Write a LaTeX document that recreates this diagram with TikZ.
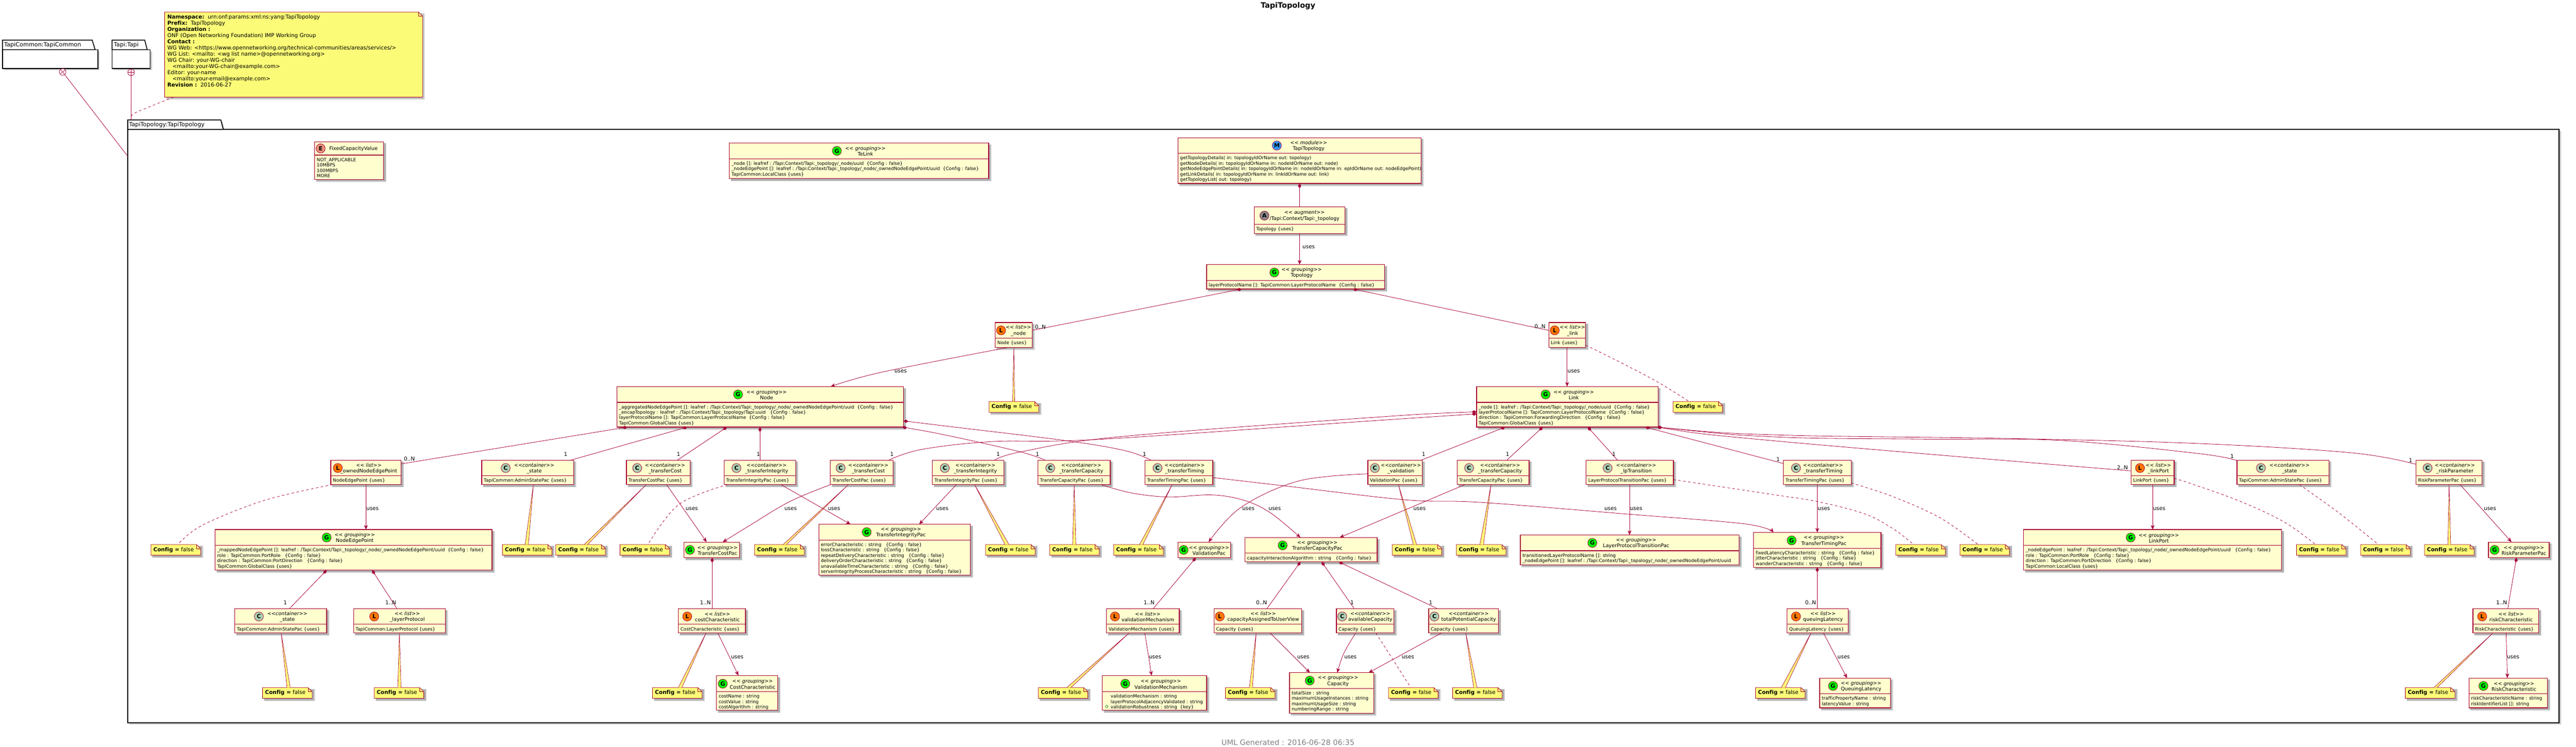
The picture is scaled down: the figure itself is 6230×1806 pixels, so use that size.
\documentclass[tikz,border=0pt]{standalone}
\usepackage{fontspec}
\setmainfont{DejaVu Sans}[Ligatures=NoCommon]
\usetikzlibrary{arrows.meta}
\definecolor{umlred}{HTML}{A80036}
\definecolor{clsfill}{HTML}{FEFECE}
\definecolor{notefill}{HTML}{FBFB77}
\definecolor{kG}{HTML}{00FF00}
\definecolor{kL}{HTML}{FF7700}
\definecolor{kC}{HTML}{ADD1B2}
\definecolor{kE}{HTML}{EB937F}
\definecolor{kM}{HTML}{3399FF}
\definecolor{kA}{HTML}{888888}
\tikzset{
 x=1pt,y=-1pt,
 cbox/.style={draw=umlred,fill=clsfill,line width=1.5pt,inner sep=0pt,outer sep=0pt,anchor=north west},
 ctitle/.style={font=\fontsize{12}{14}\selectfont,align=center,inner sep=0pt},
 cmem/.style={font=\fontsize{11}{13}\selectfont,align=left,inner sep=0pt,anchor=north west},
 cbadge/.style={circle,draw=umlred,line width=1pt,minimum size=22pt,inner sep=0pt,font=\fontsize{14}{14}\selectfont\bfseries},
 shade1/.style={fill=black,opacity=.10},
 shade2/.style={fill=black,opacity=.22},
 notearea/.style={minimum width=120pt,minimum height=26pt,inner sep=0pt,outer sep=0pt,anchor=north west},
 noteline/.style={draw=umlred,fill=notefill,line width=1pt},
 notetext/.style={font=\fontsize{13}{15}\selectfont,inner sep=0pt,anchor=west},
 lbl/.style={font=\fontsize{13}{15}\selectfont,inner sep=0pt},
 compline/.style={draw=umlred,line width=1pt,arrows={Diamond[length=12pt,width=8pt]-}},
 usesline/.style={draw=umlred,line width=1pt,arrows={-Stealth[length=11pt,width=9pt,inset=3pt]}},
 dashline/.style={draw=umlred,line width=1pt,dash pattern=on 6pt off 6pt},
 pkgline/.style={draw=black,line width=2pt},
 pkgtext/.style={font=\fontsize{14}{16}\selectfont,inner sep=0pt,anchor=west},
}
\def\parsegeo#1,#2,#3,#4,#5\relax{\def\gL{#1}\def\gT{#2}\def\gR{#3}\def\gS{#4}\def\gB{#5}}
\def\parsepos#1,#2\relax{\def\gC{#1}\def\gX{#2}}
\newcommand{\stsp}[1]{{\itshape <\kern0pt< #1>\kern0pt>}}
\newcommand{\stcn}[1]{{\itshape <\kern0pt<#1>\kern0pt>}}
% id, L,T,R,S,B, letter, cx,tx, title, members
\newcommand{\cls}[6]{%
 \parsegeo#2\relax\parsepos#4\relax
 \pgfmathsetmacro\gW{\gR-\gL}\pgfmathsetmacro\gH{\gB-\gT}\pgfmathsetmacro\gM{(\gT+\gS)/2}%
 \fill[shade1] (\gL+3,\gT+3) rectangle (\gR+7,\gB+7);
 \fill[shade2] (\gL+4,\gT+4) rectangle (\gR+5,\gB+5);
 \node[cbox,minimum width=\gW pt,minimum height=\gH pt] (#1) at (\gL,\gT) {};
 \draw[umlred,line width=1.5pt] (\gL,\gS) -- (\gR,\gS);
 \node[cbadge,fill=k#3] (#1-b) at (\gC,\gM) {#3};
 \node[ctitle] (#1-t) at (\gX,\gM+1) {#5};
 \node[cmem] (#1-m) at (\gL+5,\gS+6) {\rule{0pt}{9pt}#6};
}
\newcommand{\cfgnote}[3]{%
 \node[notearea] (#1) at (#2,#3) {};
 \fill[shade1] ([xshift=3pt,yshift=-3pt]#1.north west) rectangle ([xshift=7pt,yshift=-7pt]#1.south east);
 \fill[shade2] ([xshift=4pt,yshift=-4pt]#1.north west) rectangle ([xshift=5pt,yshift=-5pt]#1.south east);
 \path[noteline] (#1.north west) -- ([xshift=-10pt]#1.north east) -- ([yshift=-10pt]#1.north east) -- (#1.south east) -- (#1.south west) -- cycle;
 \draw[umlred,line width=1pt] ([xshift=-10pt]#1.north east) -- ([xshift=-10pt,yshift=-10pt]#1.north east) -- ([yshift=-10pt]#1.north east);
 \node[notetext] (#1-t) at ([xshift=6pt]#1.west) {\textbf{Config =} false};
}
% class, apex x, note, base x1, base x2
\newcommand{\wedgelink}[5]{%
 \fill[notefill] (#1.south -| #2,0) -- (#3.north -| #4,0) -- (#3.north -| #5,0) -- cycle;
 \draw[umlred,line width=.8pt] (#3.north -| #4,0) -- (#1.south -| #2,0) -- (#3.north -| #5,0);
}
\newcounter{labc}
\newcommand{\lab}[3]{\stepcounter{labc}\node[lbl] (lab\arabic{labc}) at (#1,#2) {#3};}
\newcommand{\U}{\_}
\begin{document}
\begin{tikzpicture}
\fill[white] (0,0) rectangle (6230,1806);
\path[use as bounding box] (0,0) rectangle (6230,1806);

\node[font=\fontsize{18}{20}\selectfont\bfseries,inner sep=0pt] (title) at (3115,14) {TapiTopology};
\node[font=\fontsize{18}{20}\selectfont,text=black!50,inner sep=0pt] (footer) at (3115,1795) {UML Generated : 2016-06-28 06:35};

% packages
\fill[shade2] (310,294) -- (538,294) -- (544,317) -- (6194,317) -- (6194,1752) -- (313,1752) -- cycle;
\node[minimum width=5880pt,minimum height=1435pt,anchor=north west,inner sep=0pt,outer sep=0pt,draw=black,line width=2pt,fill=white] (pBody) at (309,313) {};
\node[minimum width=231pt,minimum height=23pt,anchor=north west,inner sep=0pt,outer sep=0pt] (pTab) at (309,290) {};
\path[pkgline,fill=white] (pTab.south west) -- (pTab.north west) -- (534,290) -- (540,313) -- cycle;
\node[pkgtext] (pTabT) at (312,302) {TapiTopology:TapiTopology};

\fill[shade2] (10,124) -- (241,124) -- (241,170) -- (10,170) -- cycle;
\node[minimum width=231pt,minimum height=46pt,anchor=north west,inner sep=0pt,outer sep=0pt,draw=black,line width=2pt,fill=white] (pCommon) at (6,120) {};
\path[pkgline,fill=white] (6,120) -- (6,97) -- (223,97) -- (230,120) -- cycle;
\node[pkgtext] (pCommonT) at (10,109) {TapiCommon:TapiCommon};
\fill[shade2] (275,124) -- (367,124) -- (367,170) -- (275,170) -- cycle;
\node[minimum width=92pt,minimum height=46pt,anchor=north west,inner sep=0pt,outer sep=0pt,draw=black,line width=2pt,fill=white] (pTapi) at (271,120) {};
\path[pkgline,fill=white] (271,120) -- (271,97) -- (350,97) -- (356,120) -- cycle;
\node[pkgtext] (pTapiT) at (275,109) {Tapi:Tapi};

% nesting links
\node[circle,rotate=38,draw=umlred,fill=white,line width=1pt,minimum size=16pt,inner sep=0pt] (cCommon) at (151.5,174) {};
\draw[umlred,line width=.8pt] (cCommon.north) -- (cCommon.south) (cCommon.east) -- (cCommon.west);
\node[circle,draw=umlred,fill=white,line width=1pt,minimum size=16pt,inner sep=0pt] (cTapi) at (317,175) {};
\draw[umlred,line width=.8pt] (cTapi.north) -- (cTapi.south) (cTapi.east) -- (cTapi.west);
\draw[umlred,line width=1pt] (cCommon) -- (pBody.west |- 0,378);
\draw[umlred,line width=1pt] (cTapi) -- (pTab.north -| 317,0);

% big note
\node[minimum width=624pt,minimum height=206pt,inner sep=0pt,outer sep=0pt,anchor=north west] (bigNote) at (398,29) {};
\fill[shade2] (402,33) rectangle (1027,240);
\path[noteline] (bigNote.north west) -- ([xshift=-10pt]bigNote.north east) -- ([yshift=-10pt]bigNote.north east) -- (bigNote.south east) -- (bigNote.south west) -- cycle;
\draw[umlred,line width=1pt] ([xshift=-10pt]bigNote.north east) -- ([xshift=-10pt,yshift=-10pt]bigNote.north east) -- ([yshift=-10pt]bigNote.north east);
\node[font=\fontsize{13}{15}\selectfont,align=left,inner sep=0pt,anchor=north west] (bigNoteT) at (404.5,35) {\rule{0pt}{10pt}\textbf{Namespace:}\ \ urn:onf:params:xml:ns:yang:TapiTopology\\
\textbf{Prefix:}\ \ TapiTopology\\
\textbf{Organization :}\\
ONF (Open Networking Foundation) IMP Working Group\\
\textbf{Contact :}\\
WG Web: <https://www.opennetworking.org/technical-communities/areas/services/>\\
WG List: <mailto: <wg list name>@opennetworking.org>\\
WG Chair: your-WG-chair\\
\ \ \ <mailto:your-WG-chair@example.com>\\
Editor: your-name\\
\ \ \ <mailto:your-email@example.com>\\
\textbf{Revision :}\ \ 2016-06-27};
\draw[dashline] plot[smooth,tension=.4] coordinates {(bigNote.south -| 420,0) (324.5,274) (pTab.north -| 317,0)};

% standalone classes
\cls{fixed}{761,343,928,375,434}{E}{775.5,855}{FixedCapacityValue}{NOT\U APPLICABLE\\10MBPS\\100MBPS\\MORE}
\cls{telink}{1764,346,2391,384,432}{G}{2024,2093}{\stsp{grouping}\\TeLink}{\U node []: leafref : /Tapi:Context/Tapi:\U topology/\U node/uuid\ \ \{Config : false\}\\
\U nodeEdgePoint []: leafref : /Tapi:Context/Tapi:\U topology/\U node/\U ownedNodeEdgePoint/uuid\ \ \{Config : false\}\\
TapiCommon:LocalClass \{uses\}}
\cls{mod}{2849,333,3437,371,443.5}{M}{3088,3165}{\stsp{module}\\TapiTopology}{getTopologyDetails( in: topologyIdOrName out: topology)\\
getNodeDetails( in: topologyIdOrName in: nodeIdOrName out: node)\\
getNodeEdgePointDetails( in: topologyIdOrName in: nodeIdOrName in: epIdOrName out: nodeEdgePoint)\\
getLinkDetails( in: topologyIdOrName in: linkIdOrName out: link)\\
getTopologyList( out: topology)}
\cls{aug}{3033,500,3253,543,565}{A}{3058,3155}{\stsp{augment}\\/Tapi:Context/Tapi:\U topology}{Topology \{uses\}}
\cls{topo}{2918,640,3349,678,699}{G}{3082,3148}{\stsp{grouping}\\Topology}{layerProtocolName []: TapiCommon:LayerProtocolName\ \ \{Config : false\}}
\cls{nodeL}{2407,780,2496,818,840}{L}{2421,2463}{\stsp{list}\\\U node}{Node \{uses\}}
\cls{linkL}{3745.6,780,3835,818,840}{L}{3760,3803}{\stsp{list}\\\U link}{Link \{uses\}}

\cls{Nod}{1492,935,2185,973,1033}{G}{1785,1854}{\stsp{grouping}\\Node}{\U aggregatedNodeEdgePoint []: leafref : /Tapi:Context/Tapi:\U topology/\U node/\U ownedNodeEdgePoint/uuid\ \ \{Config : false\}\\
\U encapTopology : leafref : /Tapi:Context/Tapi:\U topology/Tapi:uuid\ \ \ \{Config : false\}\\
layerProtocolName []: TapiCommon:LayerProtocolName\ \ \{Config : false\}\\
TapiCommon:GlobalClass \{uses\}}
\cls{Lnk}{3571,935,4010,973,1033}{G}{3738,3806}{\stsp{grouping}\\Link}{\U node []: leafref : /Tapi:Context/Tapi:\U topology/\U node/uuid\ \ \{Config : false\}\\
layerProtocolName []: TapiCommon:LayerProtocolName\ \ \{Config : false\}\\
direction : TapiCommon:ForwardingDirection\ \ \ \{Config : false\}\\
TapiCommon:GlobalClass \{uses\}}

% containers row
\cls{nOwn}{800,1113,970,1151,1172}{L}{817,892}{\stsp{list}\\\U ownedNodeEdgePoint}{NodeEdgePoint \{uses\}}
\cls{nState}{1165,1113,1387,1151,1172}{C}{1223,1292}{\stcn{container}\\\U state}{TapiCommon:AdminStatePac \{uses\}}
\cls{nCost}{1515,1113,1668.5,1151,1172}{C}{1541,1608.5}{\stcn{container}\\\U transferCost}{TransferCostPac \{uses\}}
\cls{nInteg}{1751,1113,1924,1151,1172}{C}{1781,1854}{\stcn{container}\\\U transferIntegrity}{TransferIntegrityPac \{uses\}}
\cls{lCost}{2008,1113,2160,1151,1172}{C}{2033,2100}{\stcn{container}\\\U transferCost}{TransferCostPac \{uses\}}
\cls{lInteg}{2255,1113,2428,1151,1172}{C}{2285,2359}{\stcn{container}\\\U transferIntegrity}{TransferIntegrityPac \{uses\}}
\cls{nCap}{2510,1113,2685,1151,1172}{C}{2540,2615}{\stcn{container}\\\U transferCapacity}{TransferCapacityPac \{uses\}}
\cls{nTim}{2769,1113,2933,1151,1172}{C}{2799.5,2865}{\stcn{container}\\\U transferTiming}{TransferTimingPac \{uses\}}
\cls{lVal}{3308,1113,3440,1151,1172}{C}{3325,3388}{\stcn{container}\\\U validation}{ValidationPac \{uses\}}
\cls{lCap}{3524,1113,3698,1151,1172}{C}{3553,3628}{\stcn{container}\\\U transferCapacity}{TransferCapacityPac \{uses\}}
\cls{lLp}{3836,1113,4047,1151,1172}{C}{3888,3957}{\stcn{container}\\\U lpTransition}{LayerProtocolTransitionPac \{uses\}}
\cls{lTim}{4313,1113,4477,1151,1172}{C}{4343.5,4409}{\stcn{container}\\\U transferTiming}{TransferTimingPac \{uses\}}
\cls{lPort}{5154,1113,5258,1151,1172}{L}{5175.5,5220}{\stsp{list}\\\U linkPort}{LinkPort \{uses\}}
\cls{lState}{5410,1113,5632,1151,1172}{C}{5468,5537}{\stcn{container}\\\U state}{TapiCommon:AdminStatePac \{uses\}}
\cls{lRisk}{5843,1113,6003,1151,1172}{C}{5871,5937}{\stcn{container}\\\U riskParameter}{RiskParameterPac \{uses\}}

% pacs
\cls{gNep}{520,1281,1190,1319,1379}{G}{790,858}{\stsp{grouping}\\NodeEdgePoint}{\U mappedNodeEdgePoint []: leafref : /Tapi:Context/Tapi:\U topology/\U node/\U ownedNodeEdgePoint/uuid\ \ \{Config : false\}\\
role : TapiCommon:PortRole\ \ \ \{Config : false\}\\
direction : TapiCommon:PortDirection\ \ \ \{Config : false\}\\
TapiCommon:GlobalClass \{uses\}}
\cls{gCost}{1654.5,1311,1789,1349,1349}{G}{1668.6,1735}{\stsp{grouping}\\TransferCostPac}{}
\cls{gInteg}{1980,1268,2347,1306,1391}{G}{2096,2179}{\stsp{grouping}\\TransferIntegrityPac}{errorCharacteristic : string\ \ \ \{Config : false\}\\
lossCharacteristic : string\ \ \ \{Config : false\}\\
repeatDeliveryCharacteristic : string\ \ \ \{Config : false\}\\
deliveryOrderCharacteristic : string\ \ \ \{Config : false\}\\
unavailableTimeCharacteristic : string\ \ \ \{Config : false\}\\
serverIntegrityProcessCharacteristic : string\ \ \ \{Config : false\}}
\cls{gVal}{2848.6,1311,2976,1349,1349}{G}{2862.6,2924}{\stsp{grouping}\\ValidationPac}{}
\cls{gCap}{3011,1300,3330.5,1338,1359}{G}{3102,3186}{\stsp{grouping}\\TransferCapacityPac}{capacityInteractionAlgorithm : string\ \ \ \{Config : false\}}
\cls{gLp}{3677,1294,4206,1332,1366}{G}{3851,3957}{\stsp{grouping}\\LayerProtocolTransitionPac}{transitionedLayerProtocolName []: string\\
\U nodeEdgePoint []: leafref : /Tapi:Context/Tapi:\U topology/\U node/\U ownedNodeEdgePoint/uuid}
\cls{gTim}{4241,1288,4549,1326,1372}{G}{4333,4411}{\stsp{grouping}\\TransferTimingPac}{fixedLatencyCharacteristic : string\ \ \ \{Config : false\}\\
jitterCharacteristic : string\ \ \ \{Config : false\}\\
wanderCharacteristic : string\ \ \ \{Config : false\}}
\cls{gPort}{4894,1281,5518,1319,1379}{G}{5153,5221}{\stsp{grouping}\\LinkPort}{\U nodeEdgePoint : leafref : /Tapi:Context/Tapi:\U topology/\U node/\U ownedNodeEdgePoint/uuid\ \ \ \{Config : false\}\\
role : TapiCommon:PortRole\ \ \ \{Config : false\}\\
direction : TapiCommon:PortDirection\ \ \ \{Config : false\}\\
TapiCommon:LocalClass \{uses\}}
\cls{gRisk}{6018,1311,6165,1349,1349}{G}{6033,6104}{\stsp{grouping}\\RiskParameterPac}{}

% third row
\cls{nepS}{568,1472,790,1510,1531}{C}{626,695}{\stcn{container}\\\U state}{TapiCommon:AdminStatePac \{uses\}}
\cls{nepL}{855,1472,1077,1510,1531}{L}{905,985}{\stsp{list}\\\U layerProtocol}{TapiCommon:LayerProtocol \{uses\}}
\cls{costL}{1640.5,1472,1803,1510,1531}{L}{1662,1735}{\stsp{list}\\costCharacteristic}{CostCharacteristic \{uses\}}
\cls{valL}{2676,1472,2852,1510,1531}{L}{2696.5,2776}{\stsp{list}\\validationMechanism}{ValidationMechanism \{uses\}}
\cls{capL}{2936,1472,3148,1510,1531}{L}{2950,3055}{\stsp{list}\\capacityAssignedToUserView}{Capacity \{uses\}}
\cls{avaL}{3232,1472,3371.5,1510,1531}{C}{3246,3314}{\stcn{container}\\availableCapacity}{Capacity \{uses\}}
\cls{totL}{3455,1472,3624,1510,1531}{C}{3469,3552}{\stcn{container}\\totalPotentialCapacity}{Capacity \{uses\}}
\cls{queL}{4322,1472,4469.5,1510,1531}{L}{4343.5,4409}{\stsp{list}\\queuingLatency}{QueuingLatency \{uses\}}
\cls{rskL}{5980.6,1472,6140,1510,1531}{L}{6003,6073}{\stsp{list}\\riskCharacteristic}{RiskCharacteristic \{uses\}}

\cls{gCostC}{1733,1634,1881,1673,1718}{G}{1748,1820}{\stsp{grouping}\\CostCharacteristic}{costName : string\\costValue : string\\costAlgorithm : string}
\cls{gValM}{2666,1634,2918,1673,1718}{G}{2721.4,2807.6}{\stsp{grouping}\\ValidationMechanism}{\hspace*{15pt}validationMechanism : string\\
\hspace*{15pt}layerProtocolAdjacencyValidated : string\\
\hspace*{15pt}validationRobustness : string\ \ \{key\}}
\node[circle,draw=green!50!black,line width=.8pt,minimum size=6pt,inner sep=0pt] (gValMkey) at (2676.6,1709) {};
\cls{gCapy}{3118.6,1627,3322,1665,1725}{G}{3167.5,3236}{\stsp{grouping}\\Capacity}{totalSize : string\\maximumUsageInstances : string\\maximumUsageSize : string\\numberingRange : string}
\cls{gQue}{4400.7,1640,4572,1678,1712}{G}{4433,4501}{\stsp{grouping}\\QueuingLatency}{trafficPropertyName : string\\latencyValue : string}
\cls{gRskC}{5971,1640,6161,1678,1712}{G}{6006,6080}{\stsp{grouping}\\RiskCharacteristic}{riskCharacteristicName : string\\riskIdentifierList []: string}

% notes
\cfgnote{nA}{2392}{971}
\cfgnote{nB}{4046}{971}
\cfgnote{nOwnN}{365}{1317}
\cfgnote{nStN}{1215}{1317}
\cfgnote{n1}{1344}{1317}
\cfgnote{n2}{1499.5}{1317}
\cfgnote{n3}{1825}{1317}
\cfgnote{n4}{2383.5}{1317}
\cfgnote{n5}{2538.5}{1317}
\cfgnote{n6}{2693.5}{1317}
\cfgnote{n7}{3367}{1317}
\cfgnote{n8}{3522}{1317}
\cfgnote{n9}{4585}{1317}
\cfgnote{n10}{4740}{1317}
\cfgnote{n11}{5554}{1317}
\cfgnote{n12}{5709}{1317}
\cfgnote{n13}{5863.5}{1317}
\cfgnote{nNepS}{635}{1663}
\cfgnote{nNepL}{905}{1663}
\cfgnote{n14}{1578}{1663}
\cfgnote{n15}{2511}{1663}
\cfgnote{n16}{2963.5}{1663}
\cfgnote{n17}{3358}{1663}
\cfgnote{n18}{3513}{1663}
\cfgnote{n19}{4245.6}{1663}
\cfgnote{n20}{5817}{1663}

% wedges
\wedgelink{nodeL}{2452}{nA}{2449}{2454}
\wedgelink{nState}{1290}{nStN}{1270}{1278}
\wedgelink{nepS}{680}{nNepS}{694}{702}
\wedgelink{nepL}{966}{nNepL}{962}{970}
\wedgelink{nCost}{1563}{n1}{1413}{1421}
\wedgelink{lCost}{2052}{n3}{1894}{1902}
\wedgelink{lInteg}{2357}{n4}{2430.5}{2440}
\wedgelink{nCap}{2598}{n5}{2594}{2602}
\wedgelink{nTim}{2835}{n6}{2756}{2764}
\wedgelink{lVal}{3382}{n7}{3418}{3426}
\wedgelink{lCap}{3606}{n8}{3579}{3588}
\wedgelink{lRisk}{5923}{n13}{5920}{5927}
\wedgelink{costL}{1707.6}{n14}{1640.5}{1649}
\wedgelink{valL}{2730.5}{n15}{2580}{2590}
\wedgelink{capL}{3038}{n16}{3021.5}{3029}
\wedgelink{totL}{3545}{n18}{3564}{3572}
\wedgelink{queL}{4380}{n19}{4308}{4318}
\wedgelink{rskL}{6029}{n20}{5886}{5894}

% dashed note links
\draw[dashline] plot[smooth,tension=.6] coordinates {(nOwn.south -| 805,0) (640,1210) (490,1270) (nOwnN.north -| 430,0)};
\draw[dashline] plot[smooth,tension=.6] coordinates {(linkL.east |- 0,835) (3896,865) (4002,920) (nB.north -| 4085,0)};
\draw[dashline] plot[smooth,tension=.6] coordinates {(nInteg.south -| 1760,0) (1642,1220) (n2.north -| 1567,0)};
\draw[dashline] plot[smooth,tension=.6] coordinates {(lLp.east |- 0,1160) (4300,1198) (4395,1213) (4510,1243) (4580,1280) (n9.north -| 4628,0)};
\draw[dashline] plot[smooth,tension=.6] coordinates {(lTim.east |- 0,1168) (4580,1202) (4693,1253) (n10.north -| 4784,0)};
\draw[dashline] plot[smooth,tension=.6] coordinates {(lPort.east |- 0,1157) (5300,1170) (5419,1213) (5525,1263) (n11.north -| 5600,0)};
\draw[dashline] plot[smooth,tension=.6] coordinates {(lState.south -| 5561,0) (5656,1240) (n12.north -| 5752,0)};
\draw[dashline] (avaL.south -| 3327.5,0) -- (n17.north -| 3412,0);

% compositions
\draw[compline] (mod.south -| 3143,0) -- (aug.north -| 3143,0);
\draw[compline] (topo.south -| 3003,0) -- (nodeL.east |- 0,799);
\draw[compline] (topo.south -| 3272,0) -- (linkL.west |- 0,799);
\draw[compline] (Nod.south -| 1517,0) -- (nOwn.east |- 0,1122);
\draw[compline] (Nod.south -| 1662,0) -- (nState.north -| 1380,0);
\draw[compline] (Nod.south -| 1758,0) -- (nCost.north -| 1638,0);
\draw[compline] (Nod.south -| 1838,0) -- (nInteg.north -| 1838,0);
\draw[compline] plot[smooth,tension=.6] coordinates {(Nod.east |- 0,1018) (2300,1032) (2580,1066) (2721,1090) (nTim.north -| 2784,0)};
\draw[compline] plot[smooth,tension=.6] coordinates {(Nod.south -| 2182,0) (2300,1055) (2468,1093) (nCap.north -| 2528,0)};
\draw[compline] plot[smooth,tension=.6] coordinates {(Lnk.west |- 0,1001) (3300,1019) (2651,1063) (2400,1068) (2229,1087) (lCost.north -| 2149,0)};
\draw[compline] plot[smooth,tension=.6] coordinates {(Lnk.west |- 0,996) (3300,1011) (2700,1057) (2468,1093) (lInteg.north -| 2405,0)};
\draw[compline] (Lnk.south -| 3640,0) -- (lVal.north -| 3437,0);
\draw[compline] (Lnk.south -| 3731,0) -- (lCap.north -| 3644,0);
\draw[compline] (Lnk.south -| 3840,0) -- (lLp.north -| 3912,0);
\draw[compline] (Lnk.south -| 3979,0) -- (lTim.west |- 0,1121);
\draw[compline] plot[smooth,tension=.6] coordinates {(Lnk.south -| 4008,0) (4300,1067) (lPort.west |- 0,1139)};
\draw[compline] plot[smooth,tension=.6] coordinates {(Lnk.south -| 4008,0) (4300,1057) (4651,1062) (4980,1065) (5317,1097) (lState.west |- 0,1114)};
\draw[compline] plot[smooth,tension=.6] coordinates {(Lnk.south -| 4008,0) (4300,1052) (4826,1060) (5300,1072) (5685,1095) (lRisk.west |- 0,1123)};
\draw[compline] (gNep.south -| 790,0) -- (nepS.north -| 700,0);
\draw[compline] (gNep.south -| 900,0) -- (nepL.north -| 960,0);
\draw[compline] (gCost.south -| 1722.5,0) -- (costL.north -| 1722.5,0);
\draw[compline] (gVal.south -| 2892,0) -- (valL.north -| 2789,0);
\draw[compline] (gCap.south -| 3145,0) -- (capL.north -| 3064,0);
\draw[compline] (gCap.south -| 3196.5,0) -- (avaL.north -| 3275,0);
\draw[compline] (gCap.south -| 3238,0) -- (totL.north -| 3476,0);
\draw[compline] (gTim.south -| 4395,0) -- (queL.north -| 4395,0);
\draw[compline] (gRisk.south -| 6086,0) -- (rskL.north -| 6065,0);

% uses
\draw[usesline] (aug.south -| 3143,0) -- (topo.north -| 3143,0);
\draw[usesline] plot[smooth,tension=.6] coordinates {(nodeL.south -| 2440,0) (2133,900) (Nod.north -| 2009,0)};
\draw[usesline] (linkL.south -| 3790,0) -- (Lnk.north -| 3790,0);
\draw[usesline] (nOwn.south -| 885,0) -- (gNep.north -| 885,0);
\draw[usesline] (nCost.south -| 1612,0) -- (gCost.north -| 1709,0);
\draw[usesline] plot[smooth,tension=.6] coordinates {(lCost.south -| 2009,0) (1910,1213) (1814.5,1270) (gCost.north -| 1748,0)};
\draw[usesline] (nInteg.south -| 1888.5,0) -- (gInteg.north -| 2057,0);
\draw[usesline] (lInteg.south -| 2313,0) -- (gInteg.north -| 2223,0);
\draw[usesline] plot[smooth,tension=.6] coordinates {(nCap.south -| 2663,0) (2735,1192) (2826,1202) (2931,1197) (3008.5,1210) (3072,1240) (gCap.north -| 3145,0)};
\draw[usesline] plot[smooth,tension=.6] coordinates {(lVal.west |- 0,1146) (3142,1163) (3001.5,1227) (gVal.north -| 2923,0)};
\draw[usesline] (lCap.south -| 3543,0) -- (gCap.north -| 3240,0);
\draw[usesline] (lLp.south -| 3941,0) -- (gLp.north -| 3941,0);
\draw[usesline] plot[smooth,tension=.6] coordinates {(nTim.east |- 0,1155) (3114,1176) (3400,1209) (3581,1215) (3931,1243) (4219,1267) (gTim.north -| 4289,0)};
\draw[usesline] (lTim.south -| 4395,0) -- (gTim.north -| 4395,0);
\draw[usesline] (lPort.south -| 5206,0) -- (gPort.north -| 5206,0);
\draw[usesline] (lRisk.south -| 5949.5,0) -- (gRisk.north -| 6074,0);
\draw[usesline] (costL.south -| 1736,0) -- (gCostC.north -| 1786,0);
\draw[usesline] (valL.south -| 2768.7,0) -- (gValM.north -| 2785,0);
\draw[usesline] (capL.south -| 3072,0) -- (gCapy.north -| 3168,0);
\draw[usesline] plot[smooth,tension=.6] coordinates {(avaL.south -| 3278.6,0) (3250,1580) (gCapy.north -| 3234,0)};
\draw[usesline] (totL.south -| 3486,0) -- (gCapy.north -| 3310,0);
\draw[usesline] (queL.south -| 4410,0) -- (gQue.north -| 4467,0);
\draw[usesline] (rskL.south -| 6061,0) -- (gRskC.north -| 6064,0);

% labels
\lab{3165}{598}{uses}
\lab{2178}{898}{uses}
\lab{3806}{898}{uses}
\lab{2516}{791}{0..N}
\lab{3724.5}{789.5}{0..N}
\lab{990}{1110}{0..N}
\lab{1368}{1099}{1}
\lab{901}{1231}{uses}
\lab{690}{1458}{1}
\lab{945}{1458}{1..N}
\lab{1673}{1231}{uses}
\lab{1912}{1231}{uses}
\lab{2017}{1231}{uses}
\lab{2279}{1231}{uses}
\lab{3019}{1231}{uses}
\lab{3083}{1231}{uses}
\lab{3433}{1231}{uses}
\lab{3895}{1231}{uses}
\lab{3957}{1231}{uses}
\lab{4411}{1231}{uses}
\lab{5222}{1231}{uses}
\lab{6022}{1231}{uses}
\lab{1641}{1099}{1}
\lab{1834}{1099}{1}
\lab{2157}{1099}{1}
\lab{2414}{1099}{1}
\lab{2509}{1099}{1}
\lab{2768}{1099}{1}
\lab{3443}{1099}{1}
\lab{3646}{1099}{1}
\lab{3903}{1099}{1}
\lab{4300}{1111}{1}
\lab{5133}{1131}{2..N}
\lab{5398}{1104}{1}
\lab{5830}{1113}{1}
\lab{1706}{1458}{1..N}
\lab{2779}{1458}{1..N}
\lab{3051}{1458}{0..N}
\lab{3270}{1458}{1}
\lab{3460}{1458}{1}
\lab{4379}{1458}{0..N}
\lab{6050}{1458}{1..N}
\lab{1783}{1590}{uses}
\lab{2793.5}{1590}{uses}
\lab{3152}{1590}{uses}
\lab{3266}{1590}{uses}
\lab{3405}{1590}{uses}
\lab{4459}{1590}{uses}
\lab{6078}{1590}{uses}
\end{tikzpicture}
\end{document}
